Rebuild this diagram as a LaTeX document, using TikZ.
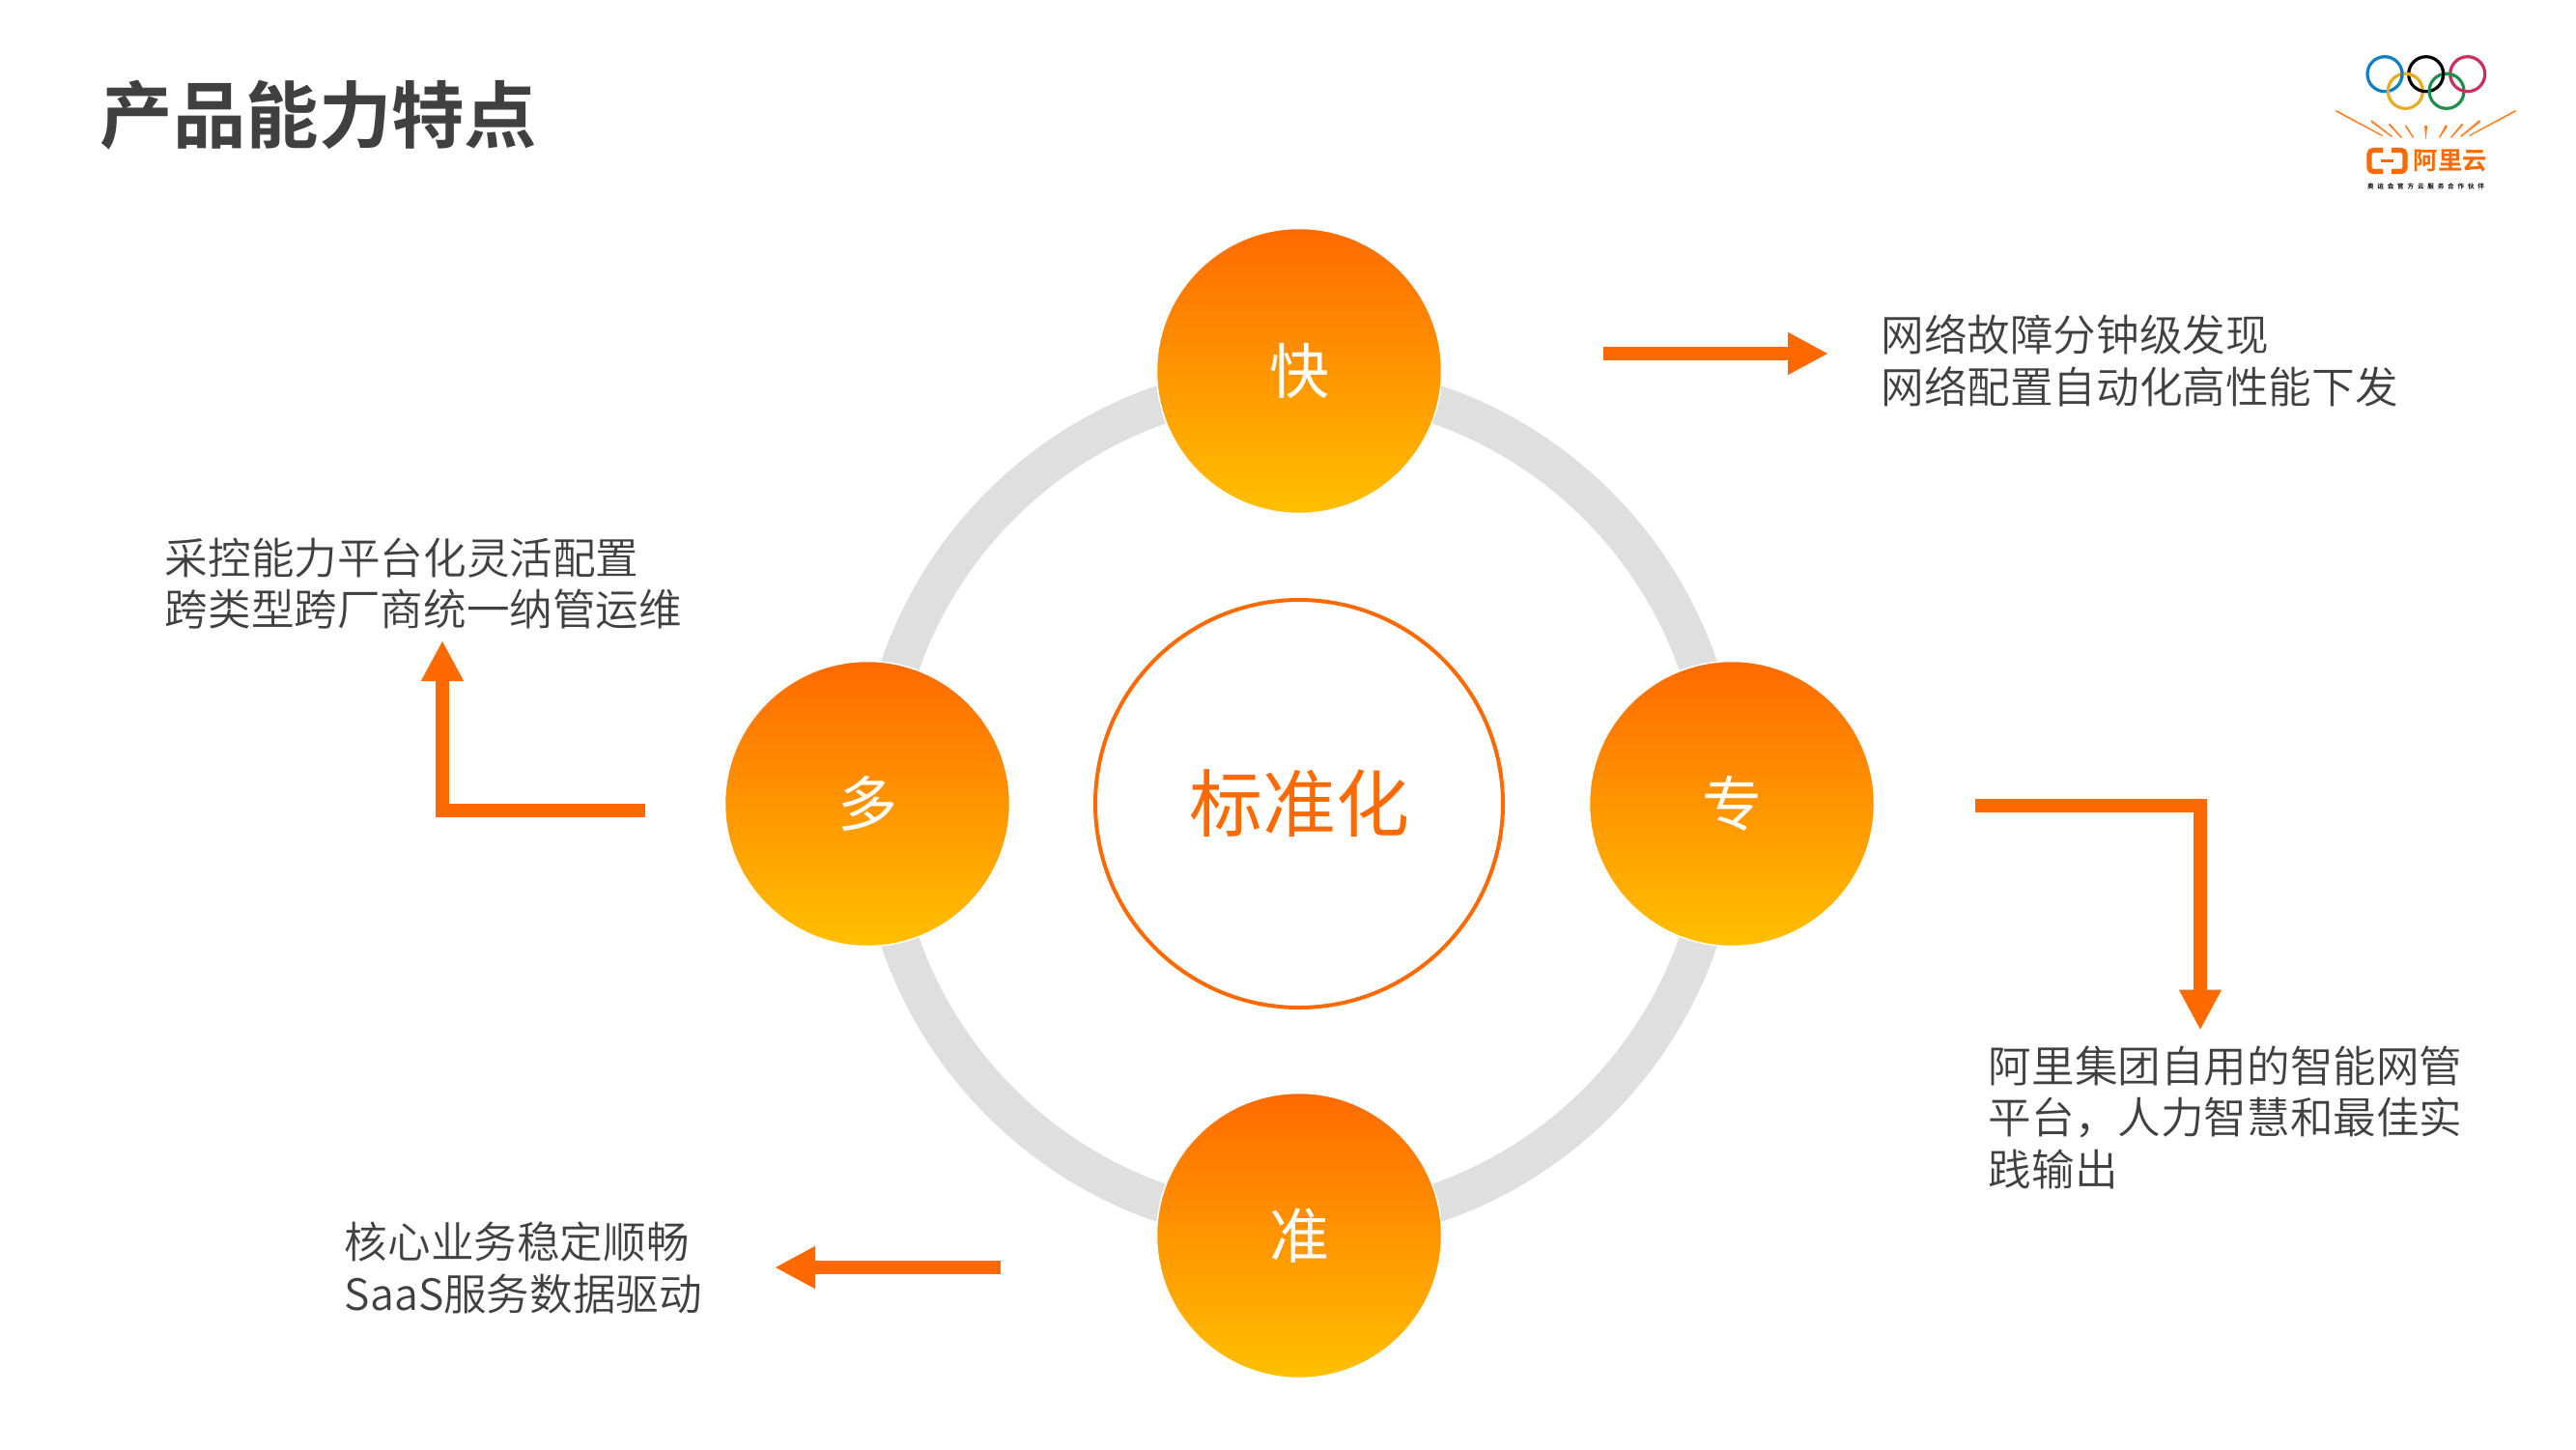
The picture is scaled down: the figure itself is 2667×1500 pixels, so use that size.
\documentclass[tikz,border=0pt]{standalone}
\usepackage{fontspec}
\usetikzlibrary{arrows.meta}
\setmainfont{Noto Sans CJK SC DemiLight}
\newfontfamily\cjkbold{Noto Sans CJK SC Bold}
\newfontfamily\cjkreg{Noto Sans CJK SC}
\definecolor{ali}{HTML}{FF6A00}
\definecolor{ali2}{HTML}{FFC000}
\definecolor{ringc}{HTML}{DFDFDF}
\definecolor{body}{HTML}{404040}
\tikzset{
  x=0.5pt,y=-0.5pt,
  ballnode/.style={circle,minimum size=147.5pt,inner sep=0pt,draw=white,line width=0.75pt,top color=ali,bottom color=ali2,text=white,font=\cjkreg\fontsize{31}{36}\selectfont},
  desc/.style={anchor=west,align=left,inner sep=0pt,text=body,font=\fontsize{22.3}{26.7}\selectfont},
  flow/.style={draw=ali,line width=7pt,-{Triangle[length=21pt,width=20.5pt]}},
  oring/.style={line width=1.6pt},
  ray/.style={fill=ali!85!white},
  brk/.style={draw=ali,line width=2.6pt,rounded corners=2pt}
}
\begin{document}
\begin{tikzpicture}
\useasboundingbox[fill=white] (0,0) rectangle (2667,1500);
% ring
\node[circle,draw=ringc,line width=20pt,minimum size=437pt,inner sep=0pt] (ring) at (1345,832) {};
% centre
\node[circle,draw=ali,line width=2pt,fill=white,minimum size=211pt,inner sep=0pt,text=ali,font=\cjkreg\fontsize{38}{44}\selectfont] (std) at (1345,832) {标准化};
% balls
\node[ballnode] (fast) at (1345,384) {快};
\node[ballnode] (pro) at (1793,832) {专};
\node[ballnode] (acc) at (1345,1279) {准};
\node[ballnode] (multi) at (898,832) {多};
% title
\node[anchor=west,inner sep=0pt,text=body,font=\cjkbold\fontsize{37.7}{44}\selectfont] (title) at (103.5,119) {产品能力特点};
% descriptions
\node[desc] (d1) at (1947,373.5) {网络故障分钟级发现\\网络配置自动化高性能下发};
\node[desc] (d2) at (2058.5,1156.5) {阿里集团自用的智能网管\\平台，人力智慧和最佳实\\践输出};
\node[desc] (d3) at (356.5,1312.5) {核心业务稳定顺畅\\SaaS服务数据驱动};
\node[desc] (d4) at (170.5,604) {采控能力平台化灵活配置\\跨类型跨厂商统一纳管运维};
% arrows
\coordinate (a1s) at (1660,366); \coordinate (a1e) at (1893,366);
\coordinate (a2s) at (2045,834); \coordinate (a2c) at (2278,834); \coordinate (a2e) at (2278,1066.5);
\coordinate (a3s) at (1036,1312); \coordinate (a3e) at (802,1312);
\coordinate (a4s) at (668,839); \coordinate (a4c) at (458,839); \coordinate (a4e) at (458,663);
\draw[flow] (a1s) -- (a1e);
\draw[flow] (a2s) -- (a2c) -- (a2e);
\draw[flow] (a3s) -- (a3e);
\draw[flow] (a4s) -- (a4c) -- (a4e);
% logo: rings
\definecolor{oblue}{HTML}{0F7FC1}\definecolor{oyel}{HTML}{E8AC24}\definecolor{ogrn}{HTML}{1E8F4A}\definecolor{ored}{HTML}{C9305C}
\draw[oring,oblue] (2469,76.7) circle[radius=9pt];
\draw[oring,oyel] (2490.3,94.3) circle[radius=9pt];
\draw[oring,black] (2511.7,76.7) circle[radius=9pt];
\draw[oring,ogrn] (2533,94.3) circle[radius=9pt];
\draw[oring,ored] (2554.7,76.7) circle[radius=9pt];
\draw[oring,oblue] (2486.4,81.4) arc[start angle=-15,end angle=15,radius=9pt];
\draw[oring,oyel] (2497.9,78) arc[start angle=65,end angle=95,radius=9pt];
\draw[oring,black] (2529.1,81.4) arc[start angle=-15,end angle=15,radius=9pt];
\draw[oring,ogrn] (2540.6,78) arc[start angle=65,end angle=95,radius=9pt];
% logo: rays
\fill[ray] (2419,114) -- (2467,140) -- (2466,141) -- (2418,115.5) -- cycle;
\fill[ray] (2455,124) -- (2477,141) -- (2476,142) -- (2455,126.5) -- cycle;
\fill[ray] (2474,127.5) -- (2487,142) -- (2486,143) -- (2473,129.5) -- cycle;
\fill[ray] (2491,129) -- (2499,142) -- (2498,143) -- (2490,131) -- cycle;
\fill[ray] (2510,130) -- (2513,130) -- (2512,143.5) -- (2511.2,143.5) -- cycle;
\fill[ray] (2532,129) -- (2534,131) -- (2526,143) -- (2525,142) -- cycle;
\fill[ray] (2549,127.5) -- (2550,129.5) -- (2538,143) -- (2537,142) -- cycle;
\fill[ray] (2567,124) -- (2568,126.5) -- (2548,142) -- (2547,141) -- cycle;
\fill[ray] (2604,114) -- (2605,115.5) -- (2557,141) -- (2556,140) -- cycle;
% logo: cloud mark
\draw[brk] (2467,155.5) -- (2453,155.5) -- (2453,177.5) -- (2467,177.5);
\draw[brk] (2476,155.5) -- (2490,155.5) -- (2490,177.5) -- (2476,177.5);
\draw[ali,line width=1.2pt] (2465,166.5) -- (2478,166.5);
\node[inner sep=0pt,text=ali,font=\cjkbold\fontsize{12.7}{14}\selectfont] (logotext) at (2537,166.5) {阿里云};
\node[inner sep=0pt,text=black,font=\cjkbold\fontsize{3.3}{4}\selectfont] (logosub) at (2511.5,192.7) {奥\hspace{1.9pt}运\hspace{1.9pt}会\hspace{1.9pt}官\hspace{1.9pt}方\hspace{1.9pt}云\hspace{1.9pt}服\hspace{1.9pt}务\hspace{1.9pt}合\hspace{1.9pt}作\hspace{1.9pt}伙\hspace{1.9pt}伴};
\end{tikzpicture}
\end{document}
